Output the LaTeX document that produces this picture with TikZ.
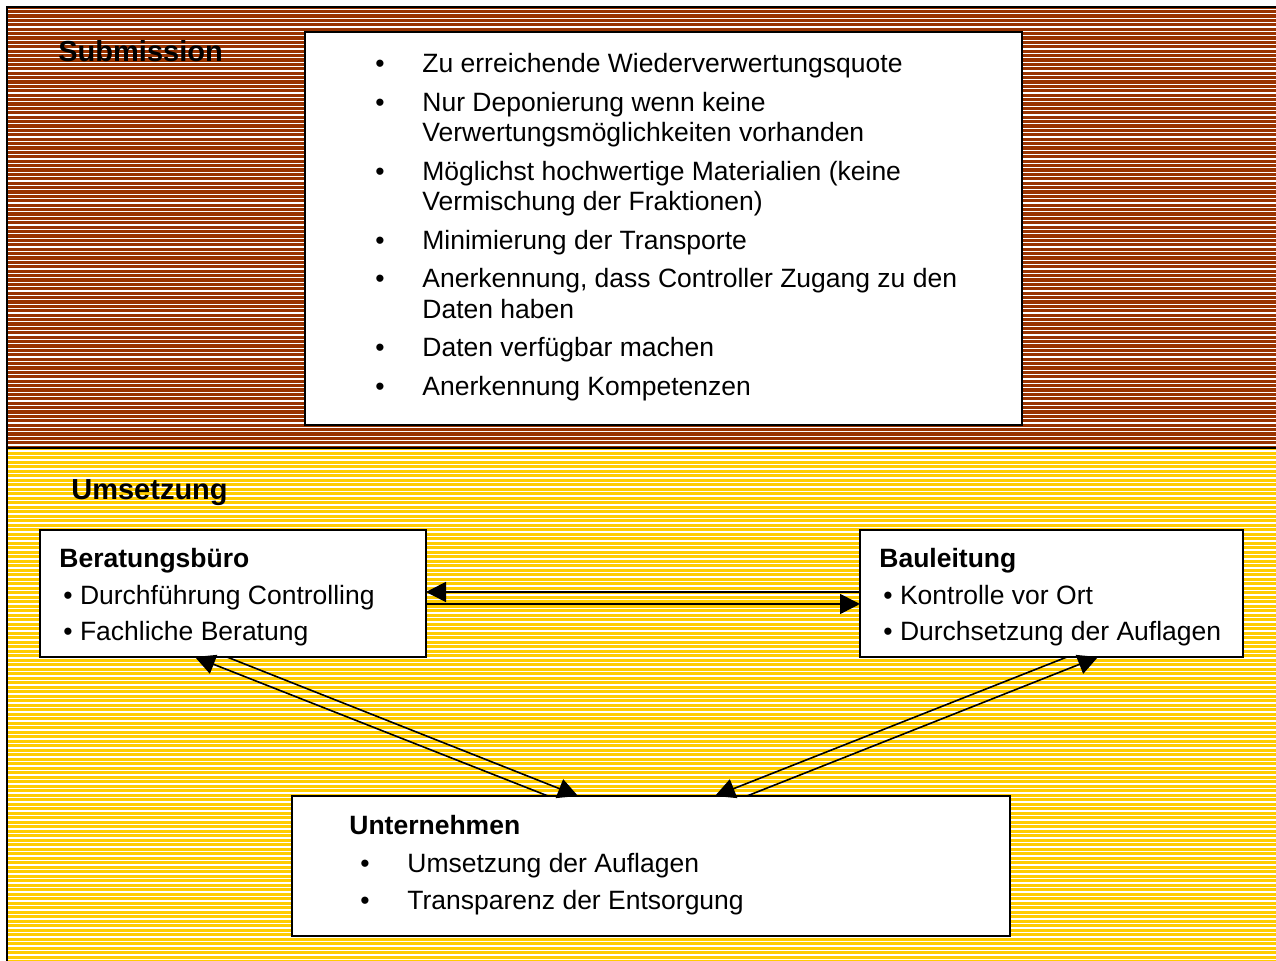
\documentclass[tikz,border=0pt]{standalone}
\usepackage{fontspec}
\setmainfont{Liberation Sans}
\usetikzlibrary{arrows.meta,calc}
\definecolor{subBrown}{RGB}{153,51,0}
\definecolor{umsYellow}{RGB}{255,204,0}
\newcommand{\bul}{\makebox[23.5pt][l]{\textbullet}}

\begin{document}
\begin{tikzpicture}[x=0.5pt, y=-0.5pt,
  box/.style={draw, line width=1pt, fill=white, anchor=north west, inner sep=0pt, outer sep=0pt},
  txt/.style={anchor=north west, inner sep=0pt, align=left, font=\fontsize{13.25}{18.25}\selectfont},
  head/.style={anchor=base west, inner sep=0pt, font=\fontsize{14.5}{17}\selectfont\bfseries},
  arr/.style={-{Triangle[length=10pt,width=10pt]}, line width=0.8pt}]
\useasboundingbox (0,0) rectangle (1276,961);
% striped background
\fill[subBrown] (7,7) rectangle (1276,448);
\fill[umsYellow] (7,448) rectangle (1276,961);
\foreach \y in {9.5,13.9,...,446} \draw[white, line width=0.6pt] (7,\y) -- (1276,\y);
\foreach \y in {451,455.5,...,961} \draw[white, line width=0.6pt] (7,\y) -- (1276,\y);
\draw[line width=1pt] (7,961) -- (7,7) -- (1276,7);
\draw[line width=1pt] (7,448) -- (1276,448);

% Submission
\node[head] (subm) at (58,62) {Submission};
\node[box, minimum width=358.5pt, minimum height=196.5pt] (subbox) at (305,32) {};
\node[txt, font=\fontsize{13.25}{15.25}\selectfont] (sublist) at (375,53) {\bul Zu erreichende Wiederverwertungsquote\\[4pt]
  \bul Nur Deponierung wenn keine\\ \hspace*{23.5pt}Verwertungsmöglichkeiten vorhanden\\[4pt]
  \bul Möglichst hochwertige Materialien (keine\\ \hspace*{23.5pt}Vermischung der Fraktionen)\\[4pt]
  \bul Minimierung der Transporte\\[4pt]
  \bul Anerkennung, dass Controller Zugang zu den\\ \hspace*{23.5pt}Daten haben\\[4pt]
  \bul Daten verfügbar machen\\[4pt]
  \bul Anerkennung Kompetenzen};

% Umsetzung
\node[head] (ums) at (71,500) {Umsetzung};
\node[box, minimum width=193pt, minimum height=63.5pt] (bera) at (40,530) {};
\node[box, minimum width=191.5pt, minimum height=63.5pt] (baul) at (860,530) {};
\node[box, minimum width=359pt, minimum height=70pt] (unter) at (292,796) {};
\node[txt] (beratxt) at (59,548) {\textbf{Beratungsbüro}\\
  \hspace*{2pt}\textbullet\ Durchführung Controlling\\
  \hspace*{2pt}\textbullet\ Fachliche Beratung};
\node[txt] (baultxt) at (879,548) {\textbf{Bauleitung}\\
  \hspace*{2pt}\textbullet\ Kontrolle vor Ort\\
  \hspace*{2pt}\textbullet\ Durchsetzung der Auflagen};
\node[txt, font=\fontsize{13.25}{18.75}\selectfont] (untertxt) at (349,815) {\textbf{Unternehmen}\\
  \hspace*{5.5pt}\bul Umsetzung der Auflagen\\
  \hspace*{5.5pt}\bul Transparenz der Entsorgung};

\draw[arr] ($(baul.west)+(0,-1.5)$) -- ($(bera.east)+(0,-1.5)$);
\draw[arr] ($(bera.east)+(0,10.5)$) -- ($(baul.west)+(0,10.5)$);
\draw[arr] ($(unter.north west)+(256,0)$) -- ($(bera.south west)+(155,0)$);
\draw[arr] ($(bera.south west)+(187,0)$) -- ($(unter.north west)+(286,0)$);
\draw[arr] ($(baul.south west)+(207,0)$) -- ($(unter.north west)+(423,0)$);
\draw[arr] ($(unter.north west)+(455,0)$) -- ($(baul.south west)+(238,0)$);
\end{tikzpicture}
\end{document}
